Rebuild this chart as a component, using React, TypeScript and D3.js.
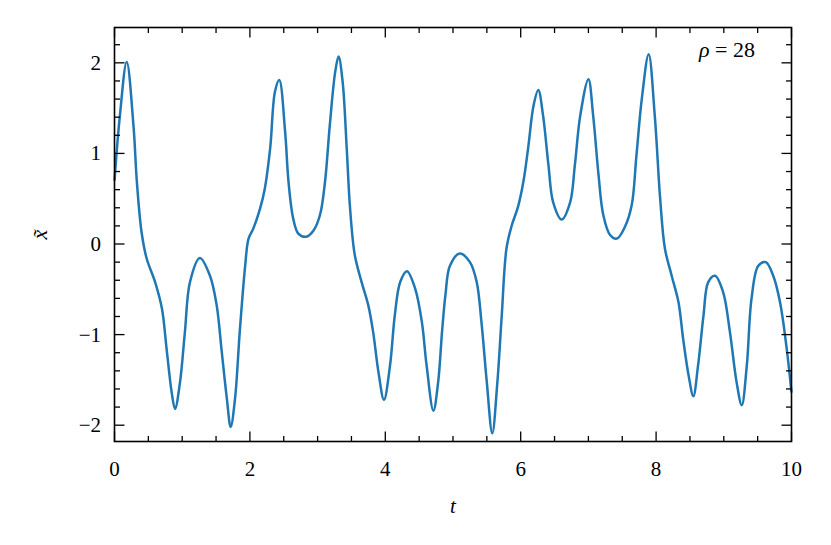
import React from 'react';
import * as d3 from 'd3';

// samples
const tValues = [
  0.0, 0.08, 0.18, 0.28, 0.33, 0.40, 0.475, 0.60, 0.70, 0.77, 0.845, 0.894, 0.967, 1.04, 1.115, 1.26,
  1.41, 1.51, 1.58, 1.66, 1.716, 1.78, 1.85, 1.93, 1.98, 2.05, 2.15, 2.22, 2.30, 2.37, 2.434,
  2.52, 2.57, 2.64, 2.715, 2.83, 2.94, 3.035, 3.11, 3.18, 3.26, 3.31, 3.37, 3.43, 3.48, 3.55,
  3.65, 3.75, 3.82, 3.90, 3.98, 4.07, 4.14, 4.22, 4.32, 4.44, 4.54, 4.61, 4.71, 4.78, 4.84,
  4.89, 4.955, 5.10, 5.25, 5.35, 5.42, 5.50, 5.58, 5.655, 5.72, 5.79, 5.87, 5.96, 6.04, 6.11,
  6.19, 6.26, 6.33, 6.41, 6.48, 6.605, 6.73, 6.80, 6.88, 7.00, 7.07, 7.15, 7.22, 7.32, 7.42,
  7.54, 7.64, 7.71, 7.79, 7.89, 7.98, 8.06, 8.13, 8.23, 8.33, 8.40, 8.48, 8.55, 8.62, 8.70,
  8.77, 8.87, 8.99, 9.09, 9.19, 9.265, 9.34, 9.41, 9.51, 9.62, 9.73, 9.83, 9.93, 10.0,
];
const xValues = [
  0.70, 1.42, 2.01, 1.31, 0.69, 0.13, -0.16, -0.42, -0.71, -1.16, -1.64, -1.82, -1.53, -0.97, -0.42, -0.155,
  -0.35, -0.68, -1.16, -1.71, -2.02, -1.71, -0.97, -0.24, 0.06, 0.17, 0.39, 0.61, 1.06, 1.68, 1.81,
  1.24, 0.69, 0.28, 0.115, 0.08, 0.15, 0.32, 0.69, 1.31, 1.90, 2.07, 1.79, 1.06, 0.39, -0.125,
  -0.42, -0.68, -0.97, -1.42, -1.72, -1.34, -0.79, -0.42, -0.30, -0.49, -0.86, -1.34, -1.84, -1.53, -0.95,
  -0.55, -0.24, -0.105, -0.20, -0.42, -0.86, -1.53, -2.09, -1.53, -0.79, -0.05, 0.21, 0.41, 0.69, 1.06,
  1.53, 1.70, 1.42, 0.87, 0.46, 0.27, 0.46, 0.87, 1.42, 1.82, 1.42, 0.76, 0.32, 0.10, 0.06,
  0.19, 0.43, 0.98, 1.61, 2.095, 1.42, 0.50, -0.05, -0.35, -0.64, -1.05, -1.45, -1.68, -1.34, -0.79,
  -0.42, -0.35, -0.53, -0.97, -1.53, -1.78, -1.34, -0.60, -0.24, -0.20, -0.35, -0.64, -1.16, -1.64,
];
const xTicks = [0, 2, 4, 6, 8, 10];
const yTicks = [-2, -1, 0, 1, 2];
const annotation = '28';

const W = 831;
const H = 545;
const left = 114.5, right = 791.5, top = 27.5, bottom = 441.5;
const font = 'Tinos';

const App = () => {
  const x = d3.scaleLinear().domain([0, 10]).range([left, right]);
  const y = d3.scaleLinear().domain([-2.18, 2.39]).range([bottom, top]);

  const data = tValues.map((t, i) => [t, xValues[i]] as [number, number]);
  const line = d3.line<[number, number]>()
    .x(d => x(d[0]))
    .y(d => y(d[1]))
    .curve(d3.curveCatmullRom.alpha(0.5));

  const major = 10, minor = 5.5;
  const xMinor = d3.range(0, 10.01, 0.5);
  const yMinor = d3.range(-2.2, 2.41, 0.2).map(v => Math.round(v * 10) / 10)
    .filter(v => y(v) >= top && y(v) <= bottom);

  const txt = { fontFamily: font, fontSize: '21px' };

  // body keeps its 8px margin, so the content is shifted back by 8px
  return (
    <svg width={W} height={H}>
      <g transform="translate(-8,-8)">
        <path
          d={line(data) ?? ''}
          fill="none"
          stroke="#1f77b4"
          strokeWidth={2.5}
          strokeLinejoin="round"
        />
        <g stroke="#000" strokeWidth={1.3}>
          {xMinor.map(v => {
            const len = xTicks.includes(v) ? major : minor;
            return (
              <g key={'x' + v}>
                <line x1={x(v)} x2={x(v)} y1={bottom} y2={bottom - len} />
                <line x1={x(v)} x2={x(v)} y1={top} y2={top + len} />
              </g>
            );
          })}
          {yMinor.map(v => {
            const len = yTicks.includes(v) ? major : minor;
            return (
              <g key={'y' + v}>
                <line y1={y(v)} y2={y(v)} x1={left} x2={left + len} />
                <line y1={y(v)} y2={y(v)} x1={right} x2={right - len} />
              </g>
            );
          })}
        </g>
        <rect x={left} y={top} width={right - left} height={bottom - top} fill="none" stroke="#000" strokeWidth={1.6} />

        {xTicks.map(d => (
          <text key={'xl' + d} x={x(d)} y={476} textAnchor="middle" style={txt}>{String(d)}</text>
        ))}
        {yTicks.map(d => (
          <text key={'yl' + d} x={101} y={y(d) + 7} textAnchor="end" style={txt}>
            {d < 0 ? '\u2212' + Math.abs(d) : String(d)}
          </text>
        ))}

        <text x={x(5)} y={513} textAnchor="middle" style={{ ...txt, fontStyle: 'italic' }}>t</text>
        <text
          transform={`translate(47,${(top + bottom) / 2}) rotate(-90)`}
          textAnchor="middle"
          style={{ ...txt, fontSize: '22px', fontStyle: 'italic' }}
        >
          {'x\u0303'}
        </text>
        <text x={755} y={57} textAnchor="end" style={{ ...txt, fontSize: '22px' }}>
          <tspan style={{ fontStyle: 'italic' }}>{'\u03c1'}</tspan>
          {' = ' + annotation}
        </text>
      </g>
    </svg>
  );
};

export default App;
